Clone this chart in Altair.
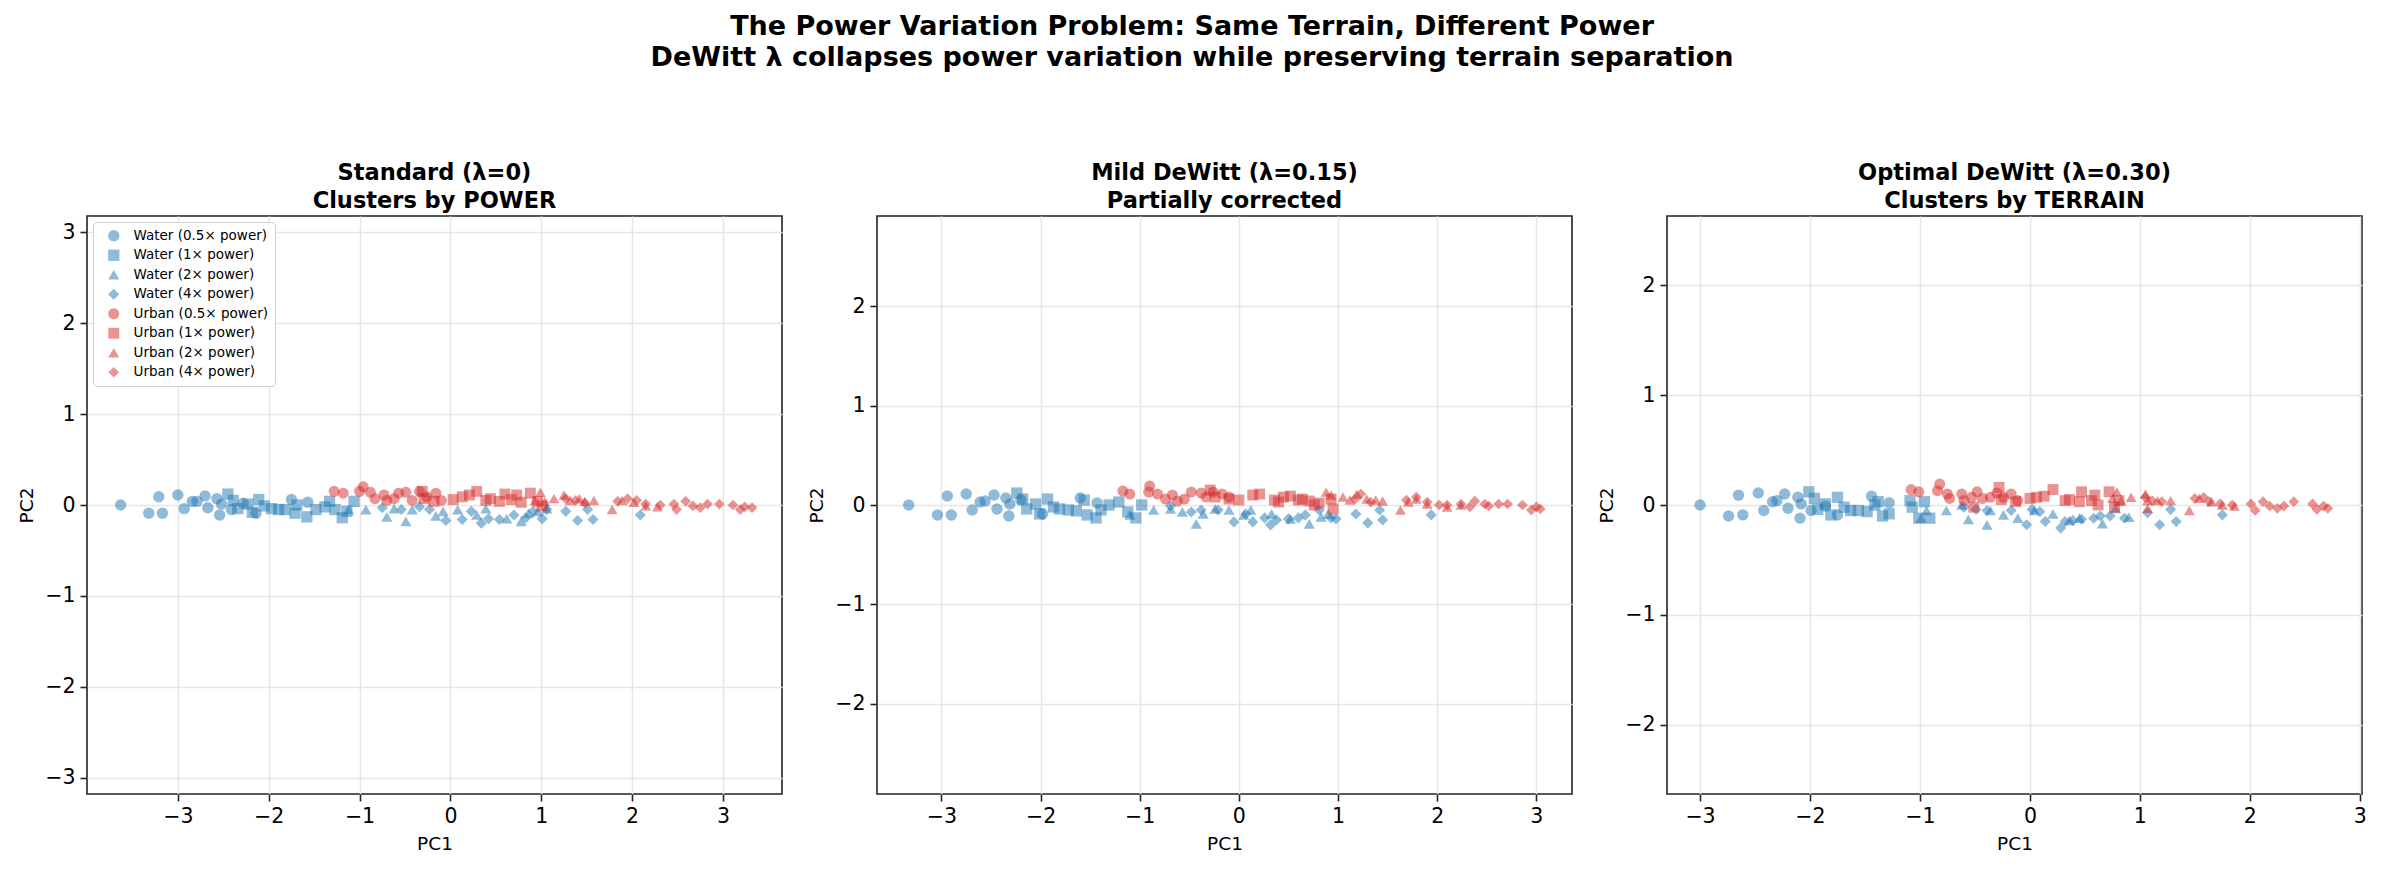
import altair as alt
import pandas as pd

# Legend groups: terrain x transmit-power level
GROUPS = [
    "Water (0.5× power)", "Water (1× power)", "Water (2× power)", "Water (4× power)",
    "Urban (0.5× power)", "Urban (1× power)", "Urban (2× power)", "Urban (4× power)",
]
GROUP_COLORS = ["#1f77b4"] * 4 + ["#d62728"] * 4
GROUP_SHAPES = ["circle", "square", "triangle-up", "diamond"] * 2
GROUP_SIZES = [130, 115, 135, 240] * 2

# ---- Standard (lambda = 0) projections -------------------------------------
STD_X = {
    "Water (0.5× power)": [-3.63, -3.32, -3.17, -3.21, -3.00, -2.93, -2.84, -2.79, -2.70, -2.67,
                           -2.57, -2.54, -2.52, -2.41, -2.28, -2.14, -1.75, -1.57],
    "Water (1× power)": [-2.45, -2.39, -2.34, -2.23, -2.18, -2.11, -2.05, -1.97, -1.89, -1.82,
                         -1.71, -1.69, -1.58, -1.48, -1.38, -1.33, -1.27, -1.19, -1.14, -1.06],
    "Water (2× power)": [-1.12, -0.93, -0.70, -0.62, -0.49, -0.42, -0.16, -0.08, 0.08, 0.29,
                         0.39, 0.62, 0.78, 0.86, 0.96, 1.06],
    "Water (4× power)": [-0.75, -0.54, -0.34, -0.23, -0.05, 0.13, 0.23, 0.34, 0.42, 0.54,
                         0.70, 0.83, 0.91, 1.01, 1.06, 1.27, 1.40, 1.51, 1.57, 2.09],
    "Urban (0.5× power)": [-1.28, -1.18, -1.00, -0.96, -0.88, -0.83, -0.73, -0.70, -0.62, -0.57,
                           -0.49, -0.42, -0.34, -0.26, -0.16, -0.10],
    "Urban (1× power)": [-0.31, -0.29, -0.18, 0.03, 0.13, 0.21, 0.29, 0.39, 0.44, 0.54,
                         0.60, 0.67, 0.73, 0.78, 0.88, 0.96, 1.01],
    "Urban (2× power)": [0.93, 0.99, 1.04, 1.14, 1.25, 1.32, 1.42, 1.48, 1.58, 1.78,
                         1.89, 2.02, 2.15, 2.28],
    "Urban (4× power)": [1.27, 1.38, 1.48, 1.84, 1.95, 2.05, 2.15, 2.31, 2.46, 2.49,
                         2.59, 2.67, 2.75, 2.83, 2.96, 3.11, 3.19, 3.24, 3.32],
}
STD_Y = {
    "Water (0.5× power)": [0.00, -0.09, -0.09, 0.09, 0.11, -0.04, 0.04, 0.04, 0.10, -0.03,
                           0.07, -0.11, 0.01, -0.05, 0.02, -0.09, 0.06, 0.03],
    "Water (1× power)": [0.12, 0.05, -0.04, 0.01, -0.08, 0.06, -0.01, -0.04, -0.05, -0.05,
                         -0.09, 0.00, -0.13, -0.05, -0.02, 0.04, -0.05, -0.14, -0.07, 0.04],
    "Water (2× power)": [-0.05, -0.05, -0.13, -0.04, -0.18, -0.05, -0.12, -0.07, -0.05, -0.11,
                         -0.04, -0.15, -0.18, -0.09, -0.07, -0.04],
    "Water (4× power)": [-0.03, -0.05, -0.02, -0.05, -0.17, -0.16, -0.07, -0.20, -0.15, -0.16,
                         -0.11, -0.14, -0.07, -0.15, -0.05, -0.07, -0.17, -0.05, -0.16, -0.11],
    "Urban (0.5× power)": [0.15, 0.13, 0.15, 0.20, 0.14, 0.07, 0.11, 0.05, 0.07, 0.13,
                           0.14, 0.05, 0.15, 0.09, 0.13, 0.05],
    "Urban (1× power)": [0.15, 0.07, 0.04, 0.06, 0.09, 0.11, 0.15, 0.05, 0.07, 0.04,
                         0.12, 0.06, 0.11, 0.03, 0.13, 0.04, -0.01],
    "Urban (2× power)": [0.05, 0.14, 0.04, 0.07, 0.11, 0.05, 0.07, 0.04, 0.05, -0.05,
                         0.05, 0.03, -0.01, -0.02],
    "Urban (4× power)": [0.07, 0.05, 0.02, 0.04, 0.07, 0.05, 0.01, 0.00, 0.01, -0.05,
                         0.04, -0.01, -0.03, 0.01, 0.01, 0.00, -0.05, -0.02, -0.03],
}

# ---- Mild DeWitt (lambda = 0.15) projections ---------------------------------
MILD_X = {
    "Water (0.5× power)": [-3.33, -3.04, -2.90, -2.94, -2.75, -2.69, -2.61, -2.56, -2.47, -2.44,
                           -2.35, -2.32, -2.31, -2.20, -1.98, -1.60, -1.43],
    "Water (1× power)": [-2.24, -2.18, -2.14, -2.05, -2.01, -1.93, -1.87, -1.81, -1.72, -1.64,
                         -1.56, -1.53, -1.44, -1.39, -1.31, -1.21, -1.12, -1.04, -0.98],
    "Water (2× power)": [-1.10, -0.86, -0.69, -0.57, -0.43, -0.36, -0.24, -0.10, 0.05, 0.12,
                         0.33, 0.52, 0.71, 0.83, 0.90],
    "Water (4× power)": [-0.69, -0.48, -0.38, -0.21, -0.05, 0.07, 0.14, 0.26, 0.32, 0.38,
                         0.50, 0.60, 0.67, 0.81, 0.93, 0.98, 1.18, 1.30, 1.42, 1.45, 1.94],
    "Urban (0.5× power)": [-1.17, -1.10, -0.90, -0.91, -0.82, -0.74, -0.67, -0.62, -0.55, -0.48,
                           -0.38, -0.33, -0.26, -0.17, -0.10],
    "Urban (1× power)": [-0.29, -0.24, -0.10, 0.00, 0.14, 0.21, 0.36, 0.40, 0.45, 0.52,
                         0.60, 0.64, 0.71, 0.76, 0.81, 0.93, 0.95],
    "Urban (2× power)": [0.88, 0.93, 1.05, 1.12, 1.19, 1.29, 1.38, 1.45, 1.63, 1.71,
                         1.79, 1.90, 2.10, 2.24],
    "Urban (4× power)": [1.17, 1.23, 1.33, 1.69, 1.79, 1.90, 2.02, 2.10, 2.24, 2.33,
                         2.38, 2.48, 2.52, 2.62, 2.71, 2.86, 2.95, 3.00, 3.04],
}
MILD_Y = {
    "Water (0.5× power)": [0.00, -0.10, -0.10, 0.09, 0.11, -0.05, 0.03, 0.04, 0.10, -0.04,
                           0.07, -0.11, 0.01, 0.05, -0.09, 0.07, 0.02],
    "Water (1× power)": [0.12, 0.06, -0.04, 0.01, -0.09, 0.06, -0.02, -0.04, -0.05, -0.06,
                         0.05, -0.10, -0.13, -0.05, 0.00, 0.03, -0.07, -0.13, 0.00],
    "Water (2× power)": [-0.10, -0.05, -0.04, -0.07, -0.19, -0.09, -0.04, -0.05, -0.10, -0.05,
                         -0.09, -0.14, -0.19, -0.12, -0.09],
    "Water (4× power)": [-0.01, -0.07, -0.05, -0.05, -0.17, -0.09, -0.17, -0.13, -0.20, -0.15,
                         -0.14, -0.13, -0.10, -0.05, -0.13, -0.14, -0.09, -0.18, -0.05, -0.15, -0.10],
    "Urban (0.5× power)": [0.14, 0.11, 0.19, 0.13, 0.11, 0.06, 0.10, 0.04, 0.06, 0.13,
                           0.12, 0.08, 0.13, 0.11, 0.08],
    "Urban (1× power)": [0.15, 0.08, 0.06, 0.05, 0.10, 0.11, 0.05, 0.03, 0.08, 0.09,
                         0.05, 0.06, 0.04, 0.00, 0.02, 0.06, -0.04],
    "Urban (2× power)": [0.13, 0.10, 0.08, 0.05, 0.11, 0.06, 0.05, 0.04, -0.05, 0.03,
                         0.06, 0.01, -0.02, 0.00],
    "Urban (4× power)": [0.06, 0.11, 0.03, 0.05, 0.08, 0.03, 0.00, 0.00, 0.01, -0.02,
                         0.04, 0.01, -0.01, 0.01, 0.01, 0.00, -0.05, -0.02, -0.04],
}

# ---- Optimal DeWitt (lambda = 0.30) projections ------------------------------
OPT_X = {
    "Water (0.5× power)": [-3.00, -2.74, -2.61, -2.65, -2.47, -2.42, -2.34, -2.30, -2.23, -2.20,
                           -2.11, -2.09, -2.08, -1.99, -1.86, -1.75, -1.44, -1.28],
    "Water (1× power)": [-2.01, -1.96, -1.93, -1.86, -1.81, -1.75, -1.69, -1.63, -1.56, -1.48,
                         -1.41, -1.38, -1.34, -1.28, -1.09, -1.07, -1.01, -0.96, -0.91],
    "Water (2× power)": [-0.99, -0.94, -0.76, -0.62, -0.56, -0.39, -0.36, -0.24, -0.11, 0.04,
                         0.21, 0.36, 0.45, 0.66, 0.78, 0.90],
    "Water (4× power)": [-0.60, -0.49, -0.39, -0.17, -0.03, 0.02, 0.09, 0.14, 0.28, 0.32,
                         0.39, 0.47, 0.58, 0.64, 0.73, 0.86, 1.07, 1.18, 1.28, 1.33, 1.75],
    "Urban (0.5× power)": [-1.08, -1.01, -0.84, -0.82, -0.75, -0.73, -0.62, -0.60, -0.53, -0.48,
                           -0.43, -0.36, -0.30, -0.24, -0.17, -0.11],
    "Urban (1× power)": [-0.51, -0.28, -0.26, -0.13, 0.00, 0.06, 0.13, 0.21, 0.32, 0.36,
                         0.45, 0.47, 0.56, 0.59, 0.62, 0.72, 0.77, 0.81],
    "Urban (2× power)": [0.75, 0.79, 0.83, 0.92, 1.05, 1.07, 1.07, 1.16, 1.28, 1.45,
                         1.54, 1.65, 1.75, 1.86],
    "Urban (4× power)": [1.05, 1.11, 1.20, 1.50, 1.58, 1.63, 1.73, 1.84, 2.01, 2.05,
                         2.12, 2.18, 2.25, 2.31, 2.40, 2.57, 2.61, 2.67, 2.71],
}
OPT_Y = {
    "Water (0.5× power)": [0.00, -0.10, -0.09, 0.09, 0.11, -0.05, 0.03, 0.04, 0.10, -0.03,
                           0.07, -0.12, 0.01, -0.05, -0.01, -0.09, 0.08, 0.02],
    "Water (1× power)": [0.12, 0.06, -0.04, 0.01, -0.09, 0.07, -0.02, -0.05, -0.05, -0.06,
                         0.00, 0.03, -0.10, -0.08, 0.04, -0.02, -0.12, 0.03, -0.12],
    "Water (2× power)": [-0.12, -0.05, -0.05, 0.00, -0.13, -0.18, -0.05, -0.09, -0.12, -0.05,
                         -0.08, -0.14, -0.12, -0.17, -0.03, -0.11],
    "Water (4× power)": [-0.02, -0.04, -0.05, -0.05, -0.18, -0.04, -0.06, -0.15, -0.21, -0.15,
                         -0.14, -0.13, -0.12, -0.10, -0.10, -0.12, -0.07, -0.18, -0.04, -0.15, -0.09],
    "Urban (0.5× power)": [0.14, 0.12, 0.13, 0.19, 0.10, 0.06, 0.10, 0.04, 0.07, 0.12,
                           0.06, 0.07, 0.11, 0.07, 0.10, 0.04],
    "Urban (1× power)": [-0.02, 0.16, 0.05, 0.03, 0.06, 0.07, 0.08, 0.14, 0.04, 0.05,
                         0.03, 0.12, 0.04, 0.09, 0.00, 0.12, -0.02, 0.04],
    "Urban (2× power)": [0.06, 0.12, 0.04, 0.07, 0.10, 0.04, -0.03, 0.04, 0.04, -0.05,
                         0.06, 0.03, 0.00, -0.01],
    "Urban (4× power)": [0.07, 0.04, 0.03, 0.06, 0.07, 0.03, 0.01, 0.00, 0.01, -0.05,
                         0.03, -0.01, -0.03, -0.01, 0.03, 0.01, -0.04, -0.01, -0.03],
}


def to_frame(xs, ys):
    rows = []
    for g in GROUPS:
        for x, y in zip(xs[g], ys[g]):
            rows.append({"group": g, "pc1": x, "pc2": y})
    return pd.DataFrame(rows)


PLOT_W, PLOT_H = 695, 578
FONT = "DejaVu Sans"


def panel(df, title, xdom, ydom, yticks, show_legend):
    legend = (
        alt.Legend(
            title=None, orient="top-left", offset=6, padding=7,
            labelFont=FONT, labelFontSize=13.5, labelColor="black", labelOffset=13,
            symbolOpacity=0.5, symbolStrokeWidth=0, symbolOffset=7,
            rowPadding=4.5, strokeColor="#d0d0d0", fillColor="white",
            cornerRadius=4,
        )
        if show_legend
        else None
    )
    return (
        alt.Chart(df)
        .mark_point(filled=True, opacity=0.5, strokeWidth=0, clip=True)
        .encode(
            x=alt.X(
                "pc1:Q",
                scale=alt.Scale(domain=xdom, nice=False, zero=False),
                axis=alt.Axis(values=[-3, -2, -1, 0, 1, 2, 3], format="d", title="PC1"),
            ),
            y=alt.Y(
                "pc2:Q",
                scale=alt.Scale(domain=ydom, nice=False, zero=False),
                axis=alt.Axis(values=yticks, format="d", title="PC2"),
            ),
            color=alt.Color(
                "group:N", sort=GROUPS,
                scale=alt.Scale(domain=GROUPS, range=GROUP_COLORS), legend=legend,
            ),
            shape=alt.Shape(
                "group:N", sort=GROUPS,
                scale=alt.Scale(domain=GROUPS, range=GROUP_SHAPES), legend=legend,
            ),
            size=alt.Size(
                "group:N", sort=GROUPS,
                scale=alt.Scale(domain=GROUPS, range=GROUP_SIZES), legend=legend,
            ),
            order=alt.Order("idx:Q"),
        )
        .transform_window(idx="row_number()")
        .properties(
            width=PLOT_W,
            height=PLOT_H,
            title=alt.TitleParams(
                text=title, fontSize=22.5, fontWeight="bold", font=FONT,
                color="black", lineHeight=28, offset=4, anchor="middle",
            ),
        )
    )


p1 = panel(to_frame(STD_X, STD_Y), ["Standard (λ=0)", "Clusters by POWER"],
           [-4.0, 3.65], [-3.18, 3.18], [-3, -2, -1, 0, 1, 2, 3], True)
p2 = panel(to_frame(MILD_X, MILD_Y), ["Mild DeWitt (λ=0.15)", "Partially corrected"],
           [-3.65, 3.36], [-2.91, 2.91], [-2, -1, 0, 1, 2], False)
p3 = panel(to_frame(OPT_X, OPT_Y), ["Optimal DeWitt (λ=0.30)", "Clusters by TERRAIN"],
           [-3.30, 3.02], [-2.63, 2.63], [-2, -1, 0, 1, 2], False)

chart = (
    alt.hconcat(p1, p2, p3, spacing=95, bounds="flush")
    .resolve_scale(color="independent", shape="independent", size="independent")
    .resolve_legend(color="independent", shape="independent", size="independent")
    .properties(
        title=alt.TitleParams(
            text=[
                "The Power Variation Problem: Same Terrain, Different Power",
                "DeWitt λ collapses power variation while preserving terrain separation",
            ],
            fontSize=27, fontWeight="bold", font=FONT, color="black",
            lineHeight=31, anchor="middle", offset=89,
        ),
        padding={"left": 16, "top": 12, "right": 5, "bottom": 5},
        background="white",
    )
    .configure_view(stroke="#222222", strokeWidth=1.6)
    .configure_axis(
        domain=False,
        grid=True, gridColor="#e6e6e6", gridWidth=1.5,
        ticks=True, tickColor="#222222", tickSize=7, tickWidth=1.6,
        labelFont=FONT, labelFontSize=20.5, labelColor="black", labelPadding=5,
        titleFont=FONT, titleFontSize=18.5, titleFontWeight="normal", titleColor="black",
        titlePadding=8,
    )
)

chart.save("out.html", embed_options={"renderer": "svg", "actions": False})
